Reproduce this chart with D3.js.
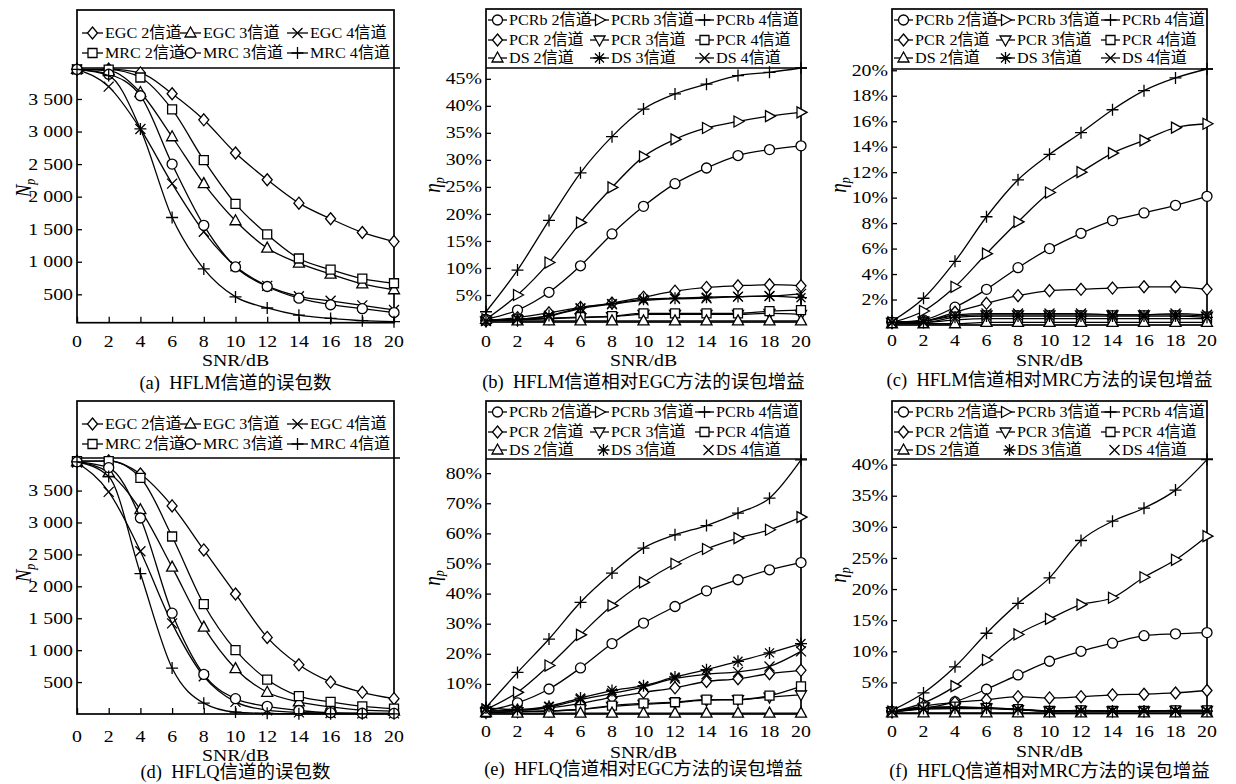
<!DOCTYPE html>
<html>
<head>
<meta charset="utf-8">
<script src="https://cdn.jsdelivr.net/npm/d3@7"></script>
<style>
  body { margin: 0; background: #fff; }
  svg text { font-family: "Liberation Serif", "Noto Sans CJK SC", serif; fill: #000; }
</style>
</head>
<body>
<svg id="chart" width="1236" height="784"></svg>
<script>
// SNR (dB) on every x axis
const snr = [0, 2, 4, 6, 8, 10, 12, 14, 16, 18, 20];

// (a) HFLM: error packet counts
const aEgc2 = [3955, 3960, 3900, 3580, 3180, 2670, 2260, 1900, 1660, 1450, 1310];
const aEgc3 = [3955, 3935, 3600, 2920, 2200, 1630, 1210, 980, 810, 660, 570];
const aEgc4 = [3955, 3690, 3040, 2200, 1460, 930, 630, 470, 400, 330, 260];
const aMrc2 = [3955, 3950, 3830, 3340, 2560, 1890, 1420, 1050, 880, 740, 670];
const aMrc3 = [3955, 3880, 3550, 2500, 1560, 920, 620, 440, 340, 280, 220];
const aMrc4 = [3955, 3860, 3040, 1680, 890, 460, 290, 180, 130, 95, 80];

// (b) HFLM: gain vs EGC (%)
const bPcrb2 = [0.5, 2.2, 5.5, 10.4, 16.3, 21.4, 25.6, 28.5, 30.8, 31.9, 32.6];
const bPcrb3 = [0.5, 5.0, 11.0, 18.4, 24.9, 30.6, 33.8, 35.9, 37.1, 38.1, 38.8];
const bPcrb4 = [1.9, 9.6, 18.8, 27.6, 34.3, 39.4, 42.2, 44.0, 45.6, 46.2, 47.0];
const bPcr2 = [0.3, 0.8, 1.7, 2.7, 3.5, 4.6, 5.7, 6.4, 6.7, 6.9, 6.7];
const bPcr3 = [0.2, 0.4, 0.6, 0.8, 1.0, 1.4, 1.4, 1.4, 1.4, 1.6, 1.4];
const bPcr4 = [0.3, 0.5, 0.7, 0.9, 1.1, 1.6, 1.6, 1.6, 1.6, 2.0, 2.2];
const bDs2 = [0.5, 0.2, 0.2, 0.2, 0.2, 0.2, 0.2, 0.2, 0.2, 0.2, 0.2];
const bDs3 = [0.2, 0.5, 1.2, 2.6, 3.4, 4.2, 4.4, 4.6, 4.7, 4.8, 4.5];
const bDs4 = [0.2, 0.5, 1.1, 2.5, 3.3, 4.0, 4.3, 4.4, 4.7, 4.8, 5.2];

// (c) HFLM: gain vs MRC (%)
const cPcrb2 = [0.2, 0.4, 1.4, 2.8, 4.5, 6.0, 7.2, 8.2, 8.8, 9.4, 10.1];
const cPcrb3 = [0.2, 1.1, 3.0, 5.6, 8.1, 10.4, 12.0, 13.5, 14.5, 15.5, 15.8];
const cPcrb4 = [0.3, 2.1, 5.0, 8.5, 11.4, 13.4, 15.1, 16.9, 18.4, 19.4, 20.1];
const cPcr2 = [0.2, 0.3, 1.0, 1.7, 2.3, 2.7, 2.8, 2.9, 3.0, 3.0, 2.8];
const cPcr3 = [0.2, 0.3, 0.7, 0.8, 0.8, 0.8, 0.8, 0.8, 0.8, 0.8, 0.7];
const cPcr4 = [0.2, 0.2, 0.4, 0.5, 0.5, 0.5, 0.5, 0.5, 0.5, 0.5, 0.5];
const cDs2 = [0.1, 0.1, 0.1, 0.2, 0.2, 0.2, 0.2, 0.2, 0.2, 0.2, 0.2];
const cDs3 = [0.2, 0.2, 0.6, 0.7, 0.7, 0.7, 0.7, 0.7, 0.7, 0.7, 0.6];
const cDs4 = [0.2, 0.3, 0.8, 0.9, 0.9, 0.9, 0.9, 0.8, 0.8, 0.9, 0.8];

// (d) HFLQ: error packet counts
const dEgc2 = [3960, 3965, 3760, 3260, 2570, 1880, 1200, 770, 500, 340, 240];
const dEgc3 = [3950, 3780, 3200, 2300, 1360, 710, 340, 190, 110, 60, 45];
const dEgc4 = [3940, 3480, 2550, 1420, 590, 190, 60, 25, 15, 10, 10];
const dMrc2 = [3960, 3960, 3700, 2780, 1720, 1000, 540, 280, 190, 120, 85];
const dMrc3 = [3950, 3860, 3070, 1580, 620, 240, 120, 55, 20, 12, 10];
const dMrc4 = [3950, 3720, 2200, 720, 170, 30, 10, 5, 3, 2, 2];

// (e) HFLQ: gain vs EGC (%)
const ePcrb2 = [1.0, 3.7, 8.3, 15.3, 23.4, 30.2, 35.7, 40.9, 44.6, 47.9, 50.3];
const ePcrb3 = [1.5, 7.2, 16.1, 26.3, 36.0, 43.7, 49.9, 54.8, 58.4, 61.2, 65.4];
const ePcrb4 = [2.2, 13.8, 24.9, 37.1, 46.8, 55.1, 59.5, 62.6, 66.7, 71.7, 84.4];
const ePcr2 = [1.0, 1.2, 2.0, 3.5, 5.5, 7.2, 8.7, 10.8, 11.7, 13.4, 14.5];
const ePcr3 = [0.5, 0.8, 1.0, 1.5, 2.5, 3.2, 3.8, 4.6, 4.8, 5.6, 6.4];
const ePcr4 = [0.5, 0.8, 1.0, 1.6, 2.8, 3.5, 3.9, 4.8, 4.8, 6.1, 9.2];
const eDs2 = [0.5, 0.3, 0.3, 0.3, 0.3, 0.3, 0.3, 0.3, 0.3, 0.3, 0.3];
const eDs3 = [2.0, 1.5, 2.6, 5.3, 7.8, 9.4, 12.3, 14.7, 17.5, 20.3, 23.4];
const eDs4 = [1.0, 1.2, 2.3, 4.8, 6.8, 9.0, 11.8, 13.2, 14.0, 15.8, 20.8];

// (f) HFLQ: gain vs MRC (%)
const fPcrb2 = [0.3, 0.8, 1.9, 3.9, 6.2, 8.4, 10.0, 11.3, 12.5, 12.8, 13.0];
const fPcrb3 = [0.3, 1.7, 4.4, 8.6, 12.7, 15.2, 17.5, 18.6, 21.9, 24.7, 28.5];
const fPcrb4 = [0.5, 3.3, 7.5, 12.9, 17.7, 21.8, 27.8, 30.9, 33.0, 35.9, 40.8];
const fPcr2 = [0.3, 1.2, 1.8, 2.2, 2.7, 2.5, 2.7, 3.0, 3.1, 3.3, 3.7];
const fPcr3 = [0.3, 0.9, 1.0, 0.9, 0.6, 0.4, 0.5, 0.4, 0.4, 0.5, 0.5];
const fPcr4 = [0.3, 1.0, 1.1, 0.9, 0.7, 0.4, 0.5, 0.4, 0.4, 0.5, 0.5];
const fDs2 = [0.1, 0.1, 0.1, 0.1, 0.1, 0.1, 0.1, 0.1, 0.1, 0.1, 0.1];
const fDs3 = [0.3, 0.8, 0.9, 0.9, 0.7, 0.4, 0.4, 0.4, 0.4, 0.4, 0.4];
const fDs4 = [0.3, 0.7, 0.8, 0.8, 0.6, 0.4, 0.4, 0.4, 0.4, 0.4, 0.4];

// tick values
const countTicks = [500, 1000, 1500, 2000, 2500, 3000, 3500];
const bTicks = [5, 10, 15, 20, 25, 30, 35, 40, 45];
const cTicks = [2, 4, 6, 8, 10, 12, 14, 16, 18, 20];
const eTicks = [10, 20, 30, 40, 50, 60, 70, 80];
const fTicks = [5, 10, 15, 20, 25, 30, 35, 40];

// legend names
const combNames = ['EGC 2信道', 'EGC 3信道', 'EGC 4信道', 'MRC 2信道', 'MRC 3信道', 'MRC 4信道'];
const gainNames = ['PCRb 2信道', 'PCRb 3信道', 'PCRb 4信道', 'PCR 2信道', 'PCR 3信道', 'PCR 4信道',
  'DS 2信道', 'DS 3信道', 'DS 4信道'];

const captions = [
  '(a)\u2002HFLM信道的误包数',
  '(b)\u2002HFLM信道相对EGC方法的误包增益',
  '(c)\u2002HFLM信道相对MRC方法的误包增益',
  '(d)\u2002HFLQ信道的误包数',
  '(e)\u2002HFLQ信道相对EGC方法的误包增益',
  '(f)\u2002HFLQ信道相对MRC方法的误包增益'
];

const combMarkers = ['diamond', 'triangle', 'cross', 'square', 'circle', 'plus'];
const gainMarkers = ['circle', 'triangleRight', 'plus', 'diamond', 'triangleDown', 'square',
  'triangle', 'asterisk', 'cross'];

const countFormat = d3.formatLocale({decimal: '.', thousands: ' ', grouping: [3], currency: ['', '']}).format(',');
const pctFormat = d => d + '%';

const STRETCH = 1.24;
const combLegend = {rows: [23, 43], cols: [5, 103, 210], symLen: 21};
const gainLegend = {rows: [11, 31, 49], cols: [2, 104, 209], symLen: 19};

const panels = [
  {series: [aEgc2, aEgc3, aEgc4, aMrc2, aMrc3, aMrc4], names: combNames, markers: combMarkers,
   legend: combLegend, yDomain: [64, 3976], yTicks: countTicks, yFormat: countFormat, yName: 'N',
   box: {left: 77, right: 394, top: 10, legBottom: 68, bottom: 322.7},
   pos: {xLab: 341, snr: 360, cap: 383, yLabX: 23, yLabY: 188}},
  {series: [bPcrb2, bPcrb3, bPcrb4, bPcr2, bPcr3, bPcr4, bDs2, bDs3, bDs4], names: gainNames, markers: gainMarkers,
   legend: gainLegend, yDomain: [0, 47], yTicks: bTicks, yFormat: pctFormat, yName: 'η',
   box: {left: 486, right: 801, top: 9, legBottom: 68, bottom: 322},
   pos: {xLab: 341.5, snr: 360, cap: 382, yLabX: 432, yLabY: 185}},
  {series: [cPcrb2, cPcrb3, cPcrb4, cPcr2, cPcr3, cPcr4, cDs2, cDs3, cDs4], names: gainNames, markers: gainMarkers,
   legend: gainLegend, yDomain: [0, 20.1], yTicks: cTicks, yFormat: pctFormat, yName: 'η',
   box: {left: 892, right: 1207, top: 9, legBottom: 69, bottom: 325},
   pos: {xLab: 340, snr: 360, cap: 380, yLabX: 838, yLabY: 185}},
  {series: [dEgc2, dEgc3, dEgc4, dMrc2, dMrc3, dMrc4], names: combNames, markers: combMarkers,
   legend: combLegend, yDomain: [0, 4010], yTicks: countTicks, yFormat: countFormat, yName: 'N',
   box: {left: 77, right: 394, top: 401, legBottom: 458, bottom: 714},
   pos: {xLab: 736, snr: 755, cap: 772, yLabX: 23, yLabY: 573}},
  {series: [ePcrb2, ePcrb3, ePcrb4, ePcr2, ePcr3, ePcr4, eDs2, eDs3, eDs4], names: gainNames, markers: gainMarkers,
   legend: gainLegend, markerOnly: [7, 8], yDomain: [0, 84.7], yTicks: eTicks, yFormat: pctFormat, yName: 'η',
   box: {left: 486, right: 801, top: 401, legBottom: 459, bottom: 714},
   pos: {xLab: 731.5, snr: 752, cap: 769, yLabX: 432, yLabY: 578}},
  {series: [fPcrb2, fPcrb3, fPcrb4, fPcr2, fPcr3, fPcr4, fDs2, fDs3, fDs4], names: gainNames, markers: gainMarkers,
   legend: gainLegend, markerOnly: [7, 8], yDomain: [0, 40.9], yTicks: fTicks, yFormat: pctFormat, yName: 'η',
   box: {left: 892, right: 1207, top: 401, legBottom: 459, bottom: 713.5},
   pos: {xLab: 731, snr: 751, cap: 771, yLabX: 838, yLabY: 575}}
];

function markerPath(type) {
  switch (type) {
    case 'circle': return 'M5,0A5,5 0 1,1 -5,0A5,5 0 1,1 5,0Z';
    case 'diamond': return 'M0,-6L5,0L0,6L-5,0Z';
    case 'square': return 'M-4.5,-4.5H4.5V4.5H-4.5Z';
    case 'triangle': return 'M0,-6L5.5,4L-5.5,4Z';
    case 'triangleRight': return 'M6,0L-4,5.5L-4,-5.5Z';
    case 'triangleDown': return 'M0,6L5.5,-4L-5.5,-4Z';
    case 'plus': return 'M-6,0H6M0,-6V6';
    case 'cross': return 'M-5,-5L5,5M-5,5L5,-5';
    default: return 'M-6,0H6M0,-6V6M-4.5,-4.5L4.5,4.5M-4.5,4.5L4.5,-4.5';
  }
}

function isOpen(type) {
  return !['plus', 'cross', 'asterisk'].includes(type);
}

function addText(g, str, x, y, size, anchor, sx) {
  return g.append('text')
      .attr('transform', `translate(${x},${y}) scale(${sx},1)`)
      .attr('text-anchor', anchor)
      .attr('dy', '0.35em')
      .style('font-size', size + 'px')
      .text(str);
}

function drawMarker(g, type, x, y) {
  g.append('path')
      .attr('d', markerPath(type))
      .attr('transform', `translate(${x},${y})`)
      .attr('fill', isOpen(type) ? '#fff' : 'none')
      .attr('stroke', '#000')
      .attr('stroke-width', 1.3);
}

function drawPanel(svg, p, caption) {
  const b = p.box;
  const x = d3.scaleLinear().domain([0, 20]).range([b.left, b.right]);
  const y = d3.scaleLinear().domain(p.yDomain).range([b.bottom, b.legBottom]);
  const g = svg.append('g');

  // axes: inward ticks, labels placed separately
  const xAxis = d3.axisBottom(x).tickValues(snr).tickSize(-6).tickSizeOuter(0).tickFormat('');
  const yAxis = d3.axisLeft(y).tickValues(p.yTicks).tickSize(-5).tickSizeOuter(0).tickFormat('');
  g.append('g')
      .attr('transform', `translate(0,${b.bottom})`)
      .call(xAxis)
      .call(a => a.select('.domain').remove())
      .selectAll('line').attr('stroke-width', 1.3);
  g.append('g')
      .attr('transform', `translate(${b.left},0)`)
      .call(yAxis)
      .call(a => a.select('.domain').remove())
      .selectAll('line').attr('stroke-width', 1.3);

  snr.forEach(v => addText(g, v, x(v), p.pos.xLab, 16, 'middle', STRETCH));
  p.yTicks.forEach(v => addText(g, p.yFormat(v), b.left - 4, y(v), 16, 'end', STRETCH));

  // frame and legend divider
  g.append('rect')
      .attr('x', b.left).attr('y', b.top)
      .attr('width', b.right - b.left).attr('height', b.bottom - b.top)
      .attr('fill', 'none').attr('stroke', '#000').attr('stroke-width', 1.7);
  g.append('line')
      .attr('x1', b.left).attr('x2', b.right + 6)
      .attr('y1', b.legBottom).attr('y2', b.legBottom)
      .attr('stroke', '#000').attr('stroke-width', 1.7);

  // legend
  const lg = p.legend;
  p.names.forEach((name, i) => {
    const lx = b.left + lg.cols[i % 3];
    const ly = b.top + lg.rows[Math.floor(i / 3)];
    const lineless = p.markerOnly && p.markerOnly.includes(i);
    if (!lineless) {
      g.append('line')
          .attr('x1', lx).attr('x2', lx + lg.symLen)
          .attr('y1', ly).attr('y2', ly)
          .attr('stroke', '#000').attr('stroke-width', 1.3);
    }
    drawMarker(g, p.markers[i], lx + lg.symLen / 2 + (lineless ? 4 : 0), ly);
    addText(g, name, lx + lg.symLen + 2, ly, 15.5, 'start', 1.04);
  });

  // series
  const line = d3.line()
      .x((d, i) => x(snr[i]))
      .y(d => y(d))
      .curve(d3.curveMonotoneX);
  p.series.forEach((values, i) => {
    g.append('path')
        .attr('d', line(values))
        .attr('fill', 'none')
        .attr('stroke', '#000')
        .attr('stroke-width', 1.3);
    values.forEach((v, j) => drawMarker(g, p.markers[i], x(snr[j]), y(v)));
  });

  // titles
  addText(g, 'SNR/dB', (b.left + b.right) / 2, p.pos.snr, 16, 'middle', STRETCH);
  addText(g, caption, (b.left + b.right) / 2, p.pos.cap, 18.5, 'middle', 1);

  const yl = g.append('text')
      .attr('transform', `translate(${p.pos.yLabX},${p.pos.yLabY}) rotate(-90) scale(1,1.2)`)
      .attr('text-anchor', 'middle')
      .attr('dy', '0.35em')
      .style('font-size', '19px')
      .style('font-style', 'italic');
  yl.append('tspan').text(p.yName);
  yl.append('tspan')
      .attr('dy', '0.3em')
      .style('font-size', '12px')
      .text('p');
}

const svg = d3.select('#chart');
panels.forEach((p, i) => drawPanel(svg, p, captions[i]));
</script>
</body>
</html>
